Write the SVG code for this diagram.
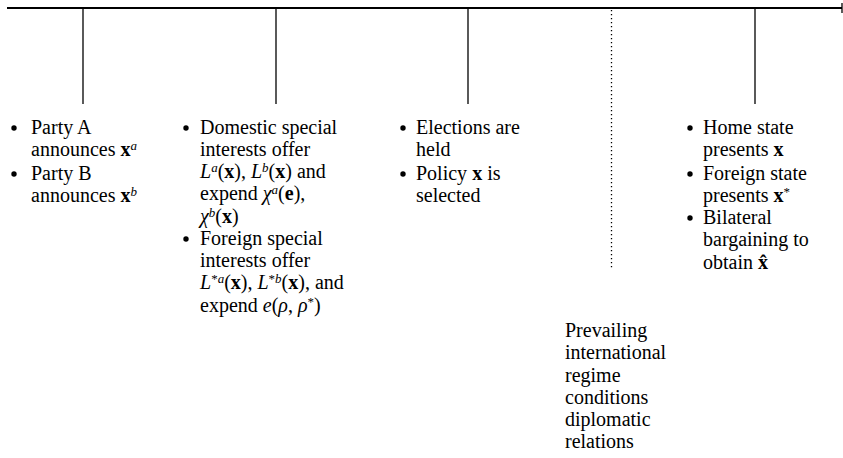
<svg xmlns="http://www.w3.org/2000/svg" width="843" height="458" viewBox="0 0 843 458">
<style>
text{font-family:"Liberation Serif","DejaVu Serif",serif;font-size:20px;fill:#000}
.b{font-weight:bold}
.i{font-style:italic}
.s{font-size:13px}
.bu{fill:#000}
.tl{stroke:#000;stroke-width:2;fill:none}
.tk{stroke:#000;stroke-width:1.3;fill:none}
.dt{stroke:#000;stroke-width:1.3;stroke-dasharray:1.3 2.7;fill:none}
</style>
<rect width="843" height="458" fill="#fff"/>
<g id="connectors">
<line class="tl" x1="7" y1="8" x2="842" y2="8"/>
<line class="tk" x1="842" y1="3" x2="842" y2="13"/>
<line class="tk" x1="83" y1="8" x2="83" y2="104"/>
<line class="tk" x1="276" y1="8" x2="276" y2="104"/>
<line class="tk" x1="468" y1="8" x2="468" y2="104"/>
<line class="dt" x1="611.5" y1="10" x2="611.5" y2="269"/>
<line class="tk" x1="755" y1="8" x2="755" y2="104"/>
</g>
<g id="node-parties">
<circle class="bu" cx="14" cy="128" r="2.7"/>
<text x="31" y="134">Party A</text>
<text x="31" y="156">announces <tspan class="b">x</tspan><tspan class="s i" dy="-6">a</tspan></text>
<circle class="bu" cx="14" cy="174" r="2.7"/>
<text x="31" y="180">Party B</text>
<text x="31" y="202">announces <tspan class="b">x</tspan><tspan class="s i" dy="-6">b</tspan></text>
</g>
<g id="node-interests">
<circle class="bu" cx="186" cy="128" r="2.7"/>
<text x="200" y="134">Domestic special</text>
<text x="200" y="156">interests offer</text>
<text x="200" y="178"><tspan class="i">L</tspan><tspan class="s i" dy="-6">a</tspan><tspan dy="6">(</tspan><tspan class="b">x</tspan>), <tspan class="i">L</tspan><tspan class="s i" dy="-6">b</tspan><tspan dy="6">(</tspan><tspan class="b">x</tspan>) and</text>
<text x="200" y="200">expend <tspan class="i">χ</tspan><tspan class="s i" dy="-6">a</tspan><tspan dy="6">(</tspan><tspan class="b">e</tspan>),</text>
<text x="200" y="223"><tspan class="i">χ</tspan><tspan class="s i" dy="-6">b</tspan><tspan dy="6">(</tspan><tspan class="b">x</tspan>)</text>
<circle class="bu" cx="186" cy="239" r="2.7"/>
<text x="200" y="245">Foreign special</text>
<text x="200" y="267">interests offer</text>
<text x="200" y="289"><tspan class="i">L</tspan><tspan class="s" dy="-6">*<tspan class="i">a</tspan></tspan><tspan dy="6">(</tspan><tspan class="b">x</tspan>), <tspan class="i">L</tspan><tspan class="s" dy="-6">*<tspan class="i">b</tspan></tspan><tspan dy="6">(</tspan><tspan class="b">x</tspan>),  and</text>
<text x="200" y="312">expend <tspan class="i">e</tspan>(<tspan class="i">ρ</tspan>, <tspan class="i">ρ</tspan><tspan class="s" dy="-6">*</tspan><tspan dy="6">)</tspan></text>
</g>
<g id="node-elections">
<circle class="bu" cx="403" cy="128" r="2.7"/>
<text x="416" y="134">Elections are</text>
<text x="416" y="156">held</text>
<circle class="bu" cx="403" cy="174" r="2.7"/>
<text x="416" y="180">Policy <tspan class="b">x</tspan> is</text>
<text x="416" y="202">selected</text>
</g>
<g id="node-regime">
<text x="565" y="337">Prevailing</text>
<text x="565" y="359">international</text>
<text x="565" y="382">regime</text>
<text x="565" y="404">conditions</text>
<text x="565" y="426">diplomatic</text>
<text x="565" y="448">relations</text>
</g>
<g id="node-bargaining">
<circle class="bu" cx="690" cy="128" r="2.7"/>
<text x="703" y="134">Home state</text>
<text x="703" y="156">presents <tspan class="b">x</tspan></text>
<circle class="bu" cx="690" cy="174" r="2.7"/>
<text x="703" y="180">Foreign state</text>
<text x="703" y="202">presents <tspan class="b">x</tspan><tspan class="s" dy="-6">*</tspan></text>
<circle class="bu" cx="690" cy="218" r="2.7"/>
<text x="703" y="224">Bilateral</text>
<text x="703" y="246">bargaining to</text>
<text x="703" y="269">obtain  <tspan class="b">x̂</tspan></text>
</g>
</svg>
